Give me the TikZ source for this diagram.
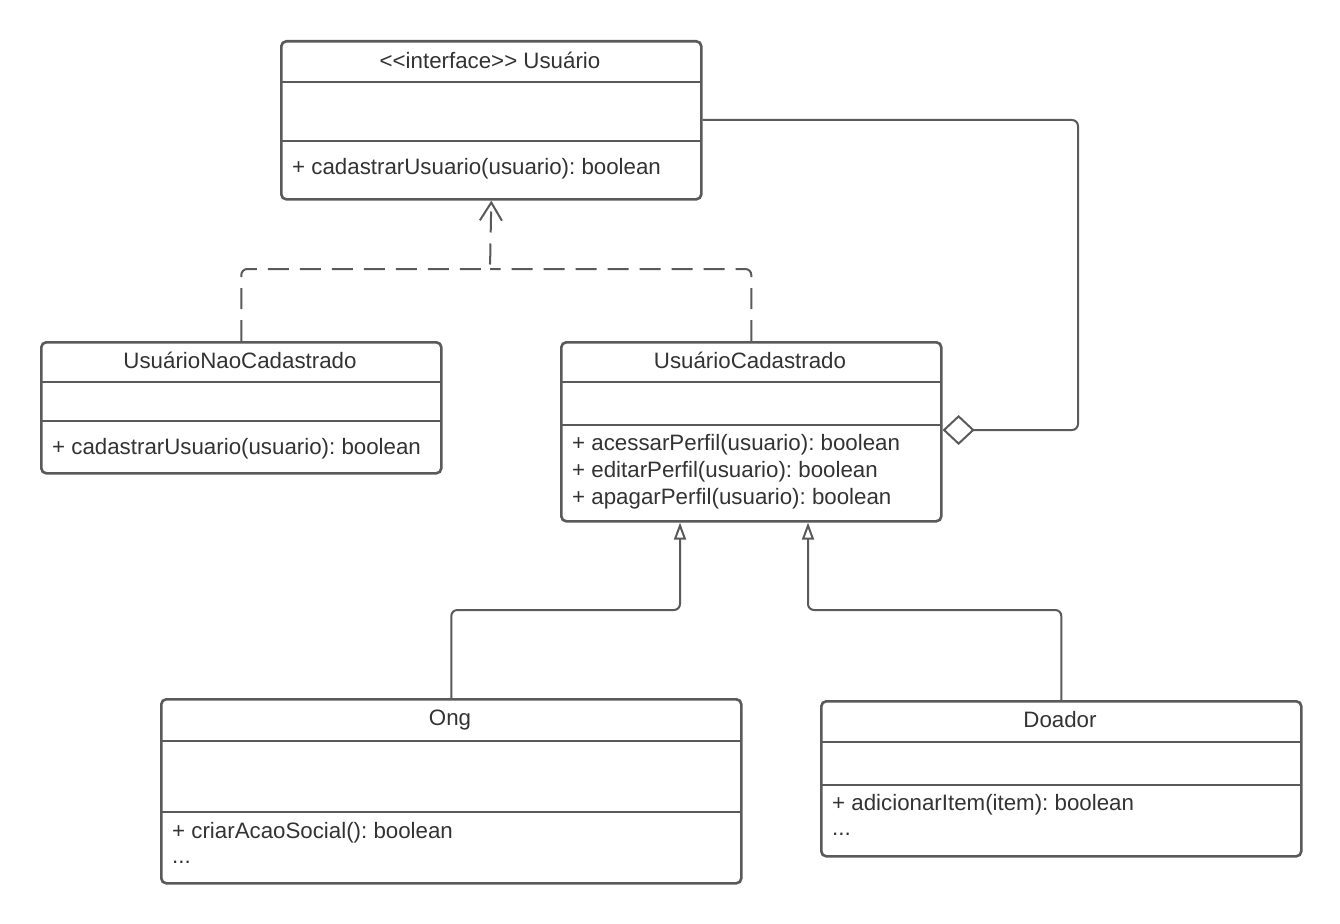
\documentclass[tikz,border=0pt]{standalone}
\usepackage{fontspec}
\setmainfont{Liberation Sans}
\usetikzlibrary{arrows.meta}
\frenchspacing
\definecolor{ln}{HTML}{5A5A5A}
\definecolor{tx}{HTML}{333333}
\tikzset{
  box/.style={draw=ln,line width=2.6pt,rounded corners=5pt,fill=white,inner sep=0pt,anchor=north west},
  divl/.style={draw=ln,line width=2.6pt},
  txt/.style={text=tx,inner sep=0pt,font=\fontsize{22.3}{26}\selectfont},
  conn/.style={draw=ln,line width=2pt,rounded corners=6pt},
  dep/.style={conn,dash pattern=on 21pt off 11pt},
  real/.style={-{Straight Barb[length=18pt,width=22pt,line width=2pt]}},
  gen/.style={conn,-{Triangle[open,length=17pt,width=12pt,fill=white]}},
  agg/.style={conn,{Diamond[open,length=32pt,width=30pt,fill=white]}-}
}
\begin{document}
\begin{tikzpicture}[x=1pt,y=-1pt]
\useasboundingbox (0,0) rectangle (1340,923);
\fill[white] (0,0) rectangle (1340,923);

% Usuario
\node[box,minimum width=420pt,minimum height=158pt] (usu) at (280,40) {};
\draw[divl] (280,82) -- (700,82);
\draw[divl] (280,141) -- (700,141);
\node[txt] (usut) at (490,60) {{<}{<}interface{>}{>} Usuário};
\node[txt,anchor=west] (usum) at (292,169) {+ cadastrarUsuario(usuario): boolean};

% UsuarioNaoCadastrado
\node[box,minimum width=400pt,minimum height=131pt] (nc) at (40,341) {};
\draw[divl] (40,382) -- (440,382);
\draw[divl] (40,421) -- (440,421);
\node[txt] (nct) at (240,360) {UsuárioNaoCadastrado};
\node[txt,anchor=west] (ncm) at (52,449) {+ cadastrarUsuario(usuario): boolean};

% UsuarioCadastrado
\node[box,minimum width=380pt,minimum height=179pt] (cad) at (560,341) {};
\draw[divl] (560,382) -- (940,382);
\draw[divl] (560,425) -- (940,425);
\node[txt] (cadt) at (750,360) {UsuárioCadastrado};
\node[txt,anchor=west] (cadm1) at (572,445) {+ acessarPerfil(usuario): boolean};
\node[txt,anchor=west] (cadm2) at (572,472) {+ editarPerfil(usuario): boolean};
\node[txt,anchor=west] (cadm3) at (572,499) {+ apagarPerfil(usuario): boolean};

% Ong
\node[box,minimum width=580pt,minimum height=184pt] (ong) at (160,698) {};
\draw[divl] (160,741) -- (740,741);
\draw[divl] (160,812) -- (740,812);
\node[txt] (ongt) at (450,720) {Ong};
\node[txt,anchor=west] (ongm) at (172,833) {+ criarAcaoSocial(): boolean};
\node[txt,anchor=west] (ongd) at (172,862) {...};

% Doador
\node[box,minimum width=480pt,minimum height=155pt] (doa) at (820,700) {};
\draw[divl] (820,742) -- (1300,742);
\draw[divl] (820,785) -- (1300,785);
\node[txt] (doat) at (1060,720) {Doador};
\node[txt,anchor=west] (doam) at (832,805) {+ adicionarItem(item): boolean};
\node[txt,anchor=west] (doad) at (832,834) {...};

% coordinates
\coordinate (j1) at (490,269);
\coordinate (h120) at (1078,120);
\coordinate (h430) at (1078,430);
\coordinate (g1) at (680,610);
\coordinate (g2) at (808,610);

% realization (dashed)
\draw[dep,real] (nc.north) |- (j1) -- (usu.south);
\draw[dep] (cad.north) |- (j1);

% aggregation
\draw[agg] (cad.east |- h430) -- (h430) -- (h120) -- (usu.east |- h120);

% generalization
\draw[gen] (ong.north) |- (g1) -- (cad.south -| g1);
\draw[gen] (doa.north) |- (g2) -- (cad.south -| g2);
\end{tikzpicture}
\end{document}
